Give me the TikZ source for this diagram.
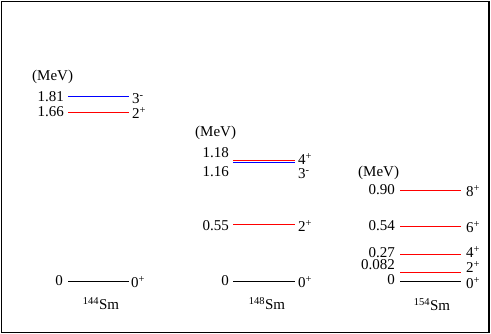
\documentclass[tikz,border=0pt]{standalone}
\usepackage{fontspec}
\setmainfont{Liberation Serif}
\begin{document}
\begin{tikzpicture}[x=1pt,y=-1pt,
  lvl/.style={line width=1pt},
  en/.style={anchor=base east,inner sep=0pt,font=\fontsize{15}{15}\selectfont},
  sp/.style={anchor=base west,inner sep=0pt,font=\fontsize{15}{15}\selectfont},
  unit/.style={anchor=base west,inner sep=0pt,font=\fontsize{15}{15}\selectfont},
  nuc/.style={anchor=base,inner sep=0pt,font=\fontsize{15}{15}\selectfont}]
\useasboundingbox (0,0) rectangle (491,334);
\draw[line width=1.5pt] (1.5,1.5) rectangle (489,332.5);
% 144Sm
\node[unit] (u1) at (32,81) {(MeV)};
\coordinate (a1l) at (68,96.5); \coordinate (a1r) at (129,96.5);
\coordinate (a2l) at (68,112.5); \coordinate (a2r) at (129,112.5);
\coordinate (a0l) at (68,281.5); \coordinate (a0r) at (129,281.5);
\draw[lvl,blue,line width=1.4pt] (a1l) -- (a1r);
\draw[lvl,red] (a2l) -- (a2r);
\draw[lvl,black] (a0l) -- (a0r);
\node[en] (ea1) at (64,102) {1.81};
\node[en] (ea2) at (64,117) {1.66};
\node[en] (ea0) at (63,286) {0};
\node[sp] (sa1) at (132,104) {3\textsuperscript{-}};
\node[sp] (sa2) at (132,119) {2\textsuperscript{+}};
\node[sp] (sa0) at (131,288) {0\textsuperscript{+}};
\node[nuc] (na) at (101,310) {\textsuperscript{144}Sm};
% 148Sm
\node[unit] (u2) at (195,137) {(MeV)};
\coordinate (b1l) at (233,160.5) ; \coordinate (b1r) at (295,160.5);
\coordinate (b2l) at (233,162.5); \coordinate (b2r) at (295,162.5);
\coordinate (b3l) at (233,224.5); \coordinate (b3r) at (295,224.5);
\coordinate (b0l) at (233,281.5); \coordinate (b0r) at (295,281.5);
\draw[lvl,red] (b1l) -- (b1r);
\draw[lvl,blue] (b2l) -- (b2r);
\draw[lvl,red] (b3l) -- (b3r);
\draw[lvl,black] (b0l) -- (b0r);
\node[en] (eb1) at (229,158) {1.18};
\node[en] (eb2) at (229,177) {1.16};
\node[en] (eb3) at (229,231) {0.55};
\node[en] (eb0) at (229,286) {0};
\node[sp] (sb1) at (298,165) {4\textsuperscript{+}};
\node[sp] (sb2) at (298,179) {3\textsuperscript{-}};
\node[sp] (sb3) at (298,232) {2\textsuperscript{+}};
\node[sp] (sb0) at (298,288) {0\textsuperscript{+}};
\node[nuc] (nb) at (267,310) {\textsuperscript{148}Sm};
% 154Sm
\node[unit] (u3) at (358,177) {(MeV)};
\coordinate (c1l) at (400,190.5); \coordinate (c1r) at (461,190.5);
\coordinate (c2l) at (400,226.5); \coordinate (c2r) at (461,226.5);
\coordinate (c3l) at (400,254.5); \coordinate (c3r) at (461,254.5);
\coordinate (c4l) at (400,272.5); \coordinate (c4r) at (461,272.5);
\coordinate (c0l) at (400,281.5); \coordinate (c0r) at (461,281.5);
\draw[lvl,red] (c1l) -- (c1r);
\draw[lvl,red] (c2l) -- (c2r);
\draw[lvl,red] (c3l) -- (c3r);
\draw[lvl,red] (c4l) -- (c4r);
\draw[lvl,black] (c0l) -- (c0r);
\node[en] (ec1) at (395,195) {0.90};
\node[en] (ec2) at (395,231) {0.54};
\node[en] (ec3) at (395,257.5) {0.27};
\node[en] (ec4) at (395,270) {0.082};
\node[en] (ec0) at (395,285) {0};
\node[sp] (sc1) at (466,197) {8\textsuperscript{+}};
\node[sp] (sc2) at (466,233) {6\textsuperscript{+}};
\node[sp] (sc3) at (466,258) {4\textsuperscript{+}};
\node[sp] (sc4) at (466,273) {2\textsuperscript{+}};
\node[sp] (sc0) at (466,289) {0\textsuperscript{+}};
\node[nuc] (nc) at (432,311) {\textsuperscript{154}Sm};
\end{tikzpicture}
\end{document}
